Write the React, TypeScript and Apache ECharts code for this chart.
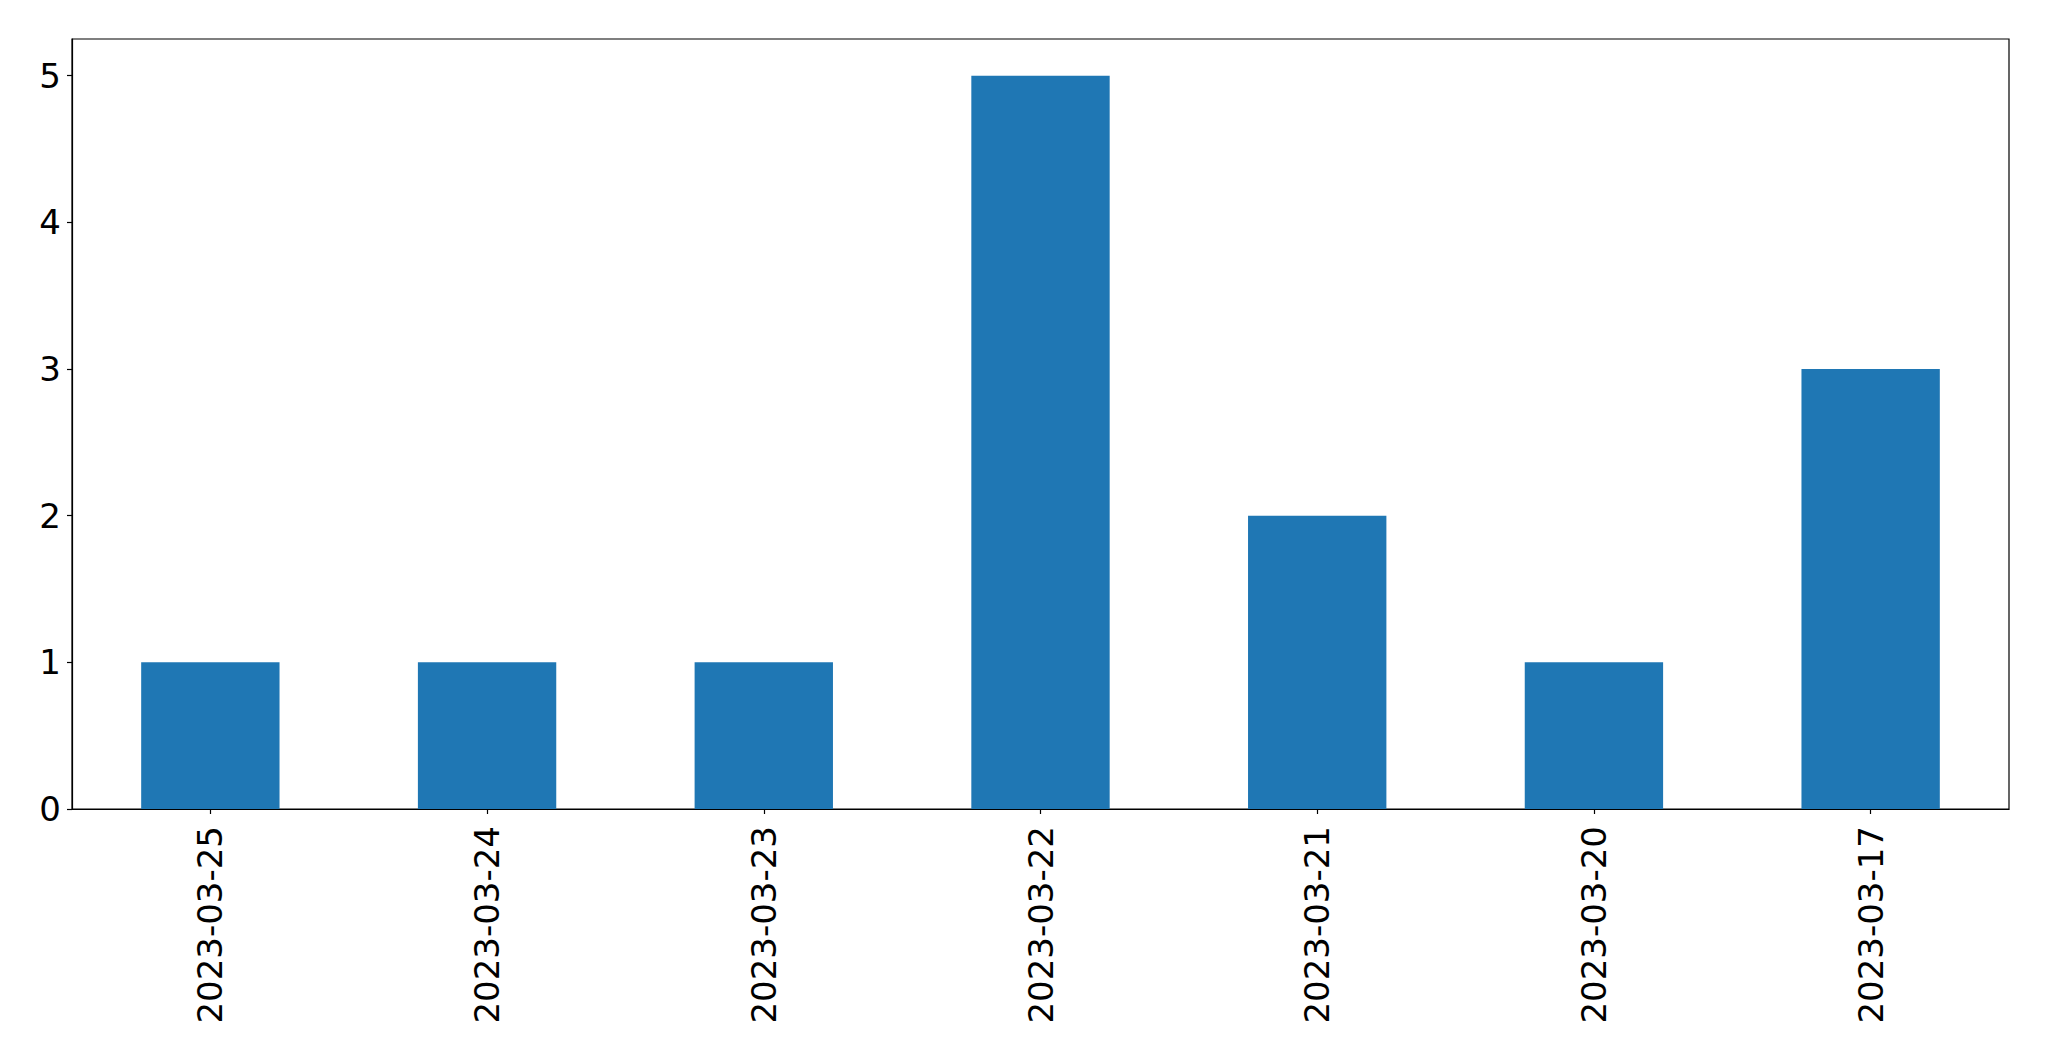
import React, { useEffect, useRef } from "react";
import * as echarts from "echarts";

const categories = [
  "2023-03-25",
  "2023-03-24",
  "2023-03-23",
  "2023-03-22",
  "2023-03-21",
  "2023-03-20",
  "2023-03-17",
];
const values = [1, 1, 1, 5, 2, 1, 3];
const yTicks = [0, 1, 2, 3, 4, 5];

export default function App() {
  const ref = useRef<HTMLDivElement>(null);
  useEffect(() => {
    if (!ref.current) return;
    const chart = echarts.init(ref.current, undefined, { renderer: "svg" });
    const font = "DejaVu Sans";
    chart.setOption({
      animation: false,
      backgroundColor: "#ffffff",
      grid: {
        left: 72,
        top: 39,
        right: 40,
        bottom: 252,
        show: true,
        borderColor: "#000000",
        borderWidth: 1.2,
        backgroundColor: "transparent",
      },
      xAxis: {
        type: "category",
        data: categories,
        boundaryGap: true,
        axisLine: { show: true, lineStyle: { color: "#000", width: 1.2 } },
        axisTick: {
          show: true,
          alignWithLabel: true,
          length: 5,
          lineStyle: { color: "#000", width: 1.2 },
        },
        axisLabel: {
          rotate: 90,
          margin: 17,
          fontSize: 34,
          fontFamily: font,
          color: "#000",
          interval: 0,
        },
        splitLine: { show: false },
      },
      yAxis: {
        type: "value",
        min: 0,
        max: 5.25,
        interval: 1,
        axisLine: { show: true, lineStyle: { color: "#000", width: 1.2 } },
        axisTick: {
          show: true,
          length: 5,
          lineStyle: { color: "#000", width: 1.2 },
          customValues: yTicks,
        },
        axisLabel: {
          margin: 11,
          fontSize: 34,
          fontFamily: font,
          color: "#000",
          customValues: yTicks,
        },
        splitLine: { show: false },
      },
      series: [
        {
          type: "bar",
          data: values,
          barWidth: "50%",
          itemStyle: { color: "#1f77b4" },
        },
      ],
    });
    return () => chart.dispose();
  }, []);
  return (
    <div
      ref={ref}
      style={{ position: "fixed", left: 0, top: 0, width: 2049, height: 1061 }}
    />
  );
}
